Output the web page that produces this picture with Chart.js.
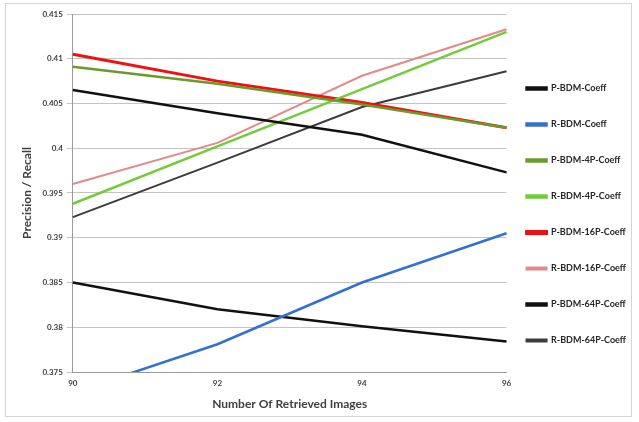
<!DOCTYPE html>
<html>
<head>
<meta charset="utf-8">
<script src="https://cdn.jsdelivr.net/npm/chart.js@4/dist/chart.umd.min.js"></script>
<style>
  html, body { margin: 0; padding: 0; background: #fff; }
  #wrap { position: relative; width: 639px; height: 422px; }
  #frame { position: absolute; left: 5px; top: 3px; width: 627px; height: 414px;
           border: 1px solid #d4d4d4; box-sizing: border-box; pointer-events: none; }
</style>
</head>
<body>
<div id="wrap">
  <canvas id="c" width="639" height="422"></canvas>
  <div id="frame"></div>
</div>
<script>
// Number of retrieved images (x axis)
const retrieved = ['90', '92', '94', '96'];

// Precision / recall per method
const pBdmCoeff    = [0.4065, 0.4039, 0.4015, 0.3973];
const rBdmCoeff    = [0.3727, 0.3781, 0.3850, 0.3905];
const pBdm4pCoeff  = [0.4091, 0.4072, 0.4049, 0.4023];
const rBdm4pCoeff  = [0.3938, 0.4002, 0.4066, 0.4130];
const pBdm16pCoeff = [0.4105, 0.4075, 0.4051, 0.4023];
const rBdm16pCoeff = [0.3960, 0.4006, 0.4081, 0.4133];
const pBdm64pCoeff = [0.3850, 0.3820, 0.3801, 0.3784];
const rBdm64pCoeff = [0.3923, 0.3984, 0.4046, 0.4086];

const yTicks = { min: 0.375, max: 0.415, step: 0.005 };

function series(label, data, color, width) {
  return { label, data, borderColor: color, backgroundColor: color,
           borderWidth: width, pointRadius: 0, tension: 0, fill: false };
}

// Pull the legend column a little closer to the plot area
const legendNudge = {
  id: 'legendNudge',
  afterLayout(chart) {
    const lg = chart.legend;
    if (lg) { lg.left -= 7; lg.right -= 7; }
  }
};

new Chart(document.getElementById('c'), {
  type: 'line',
  data: {
    labels: retrieved,
    datasets: [
      series('P-BDM-Coeff',     pBdmCoeff,    '#111111', 2.5),
      series('R-BDM-Coeff',     rBdmCoeff,    '#3470cf', 2.5),
      series('P-BDM-4P-Coeff',  pBdm4pCoeff,  '#6a9a2a', 2.5),
      series('R-BDM-4P-Coeff',  rBdm4pCoeff,  '#72cc3a', 2.5),
      series('P-BDM-16P-Coeff', pBdm16pCoeff, '#ee1111', 3),
      series('R-BDM-16P-Coeff', rBdm16pCoeff, '#e28a8a', 2),
      series('P-BDM-64P-Coeff', pBdm64pCoeff, '#111111', 2.5),
      series('R-BDM-64P-Coeff', rBdm64pCoeff, '#3c3c3c', 2)
    ]
  },
  plugins: [legendNudge],
  options: {
    responsive: false,
    animation: false,
    layout: { padding: { left: 16, right: -4, top: 14, bottom: 7 } },
    plugins: {
      tooltip: { enabled: false },
      legend: {
        position: 'right',
        labels: {
          boxWidth: 20,
          boxHeight: 2,
          padding: 27,
          color: '#262626',
          font: { family: 'Lato', size: 9, weight: 'bold' }
        }
      }
    },
    scales: {
      x: {
        offset: false,
        grid: { display: false, drawTicks: false },
        border: { color: '#9a9a9a' },
        ticks: { color: '#404040', padding: 7, maxRotation: 0,
                 font: { family: 'Lato', size: 8, weight: 'bold' } },
        title: { display: true, text: 'Number Of Retrieved Images', color: '#404040',
                 padding: { top: 1 }, font: { family: 'Lato', size: 12, weight: 'bold' } }
      },
      y: {
        min: yTicks.min,
        max: yTicks.max,
        grid: { color: '#c4c4c4', tickLength: 6 },
        border: { color: '#9a9a9a' },
        ticks: { stepSize: yTicks.step, color: '#404040', padding: 4,
                 font: { family: 'Lato', size: 8, weight: 'bold' },
                 callback: v => String(+v.toFixed(3)) },
        title: { display: true, text: 'Precision / Recall', color: '#404040',
                 padding: { bottom: 4 }, font: { family: 'Lato', size: 12, weight: 'bold' } }
      }
    }
  }
});
</script>
</body>
</html>
